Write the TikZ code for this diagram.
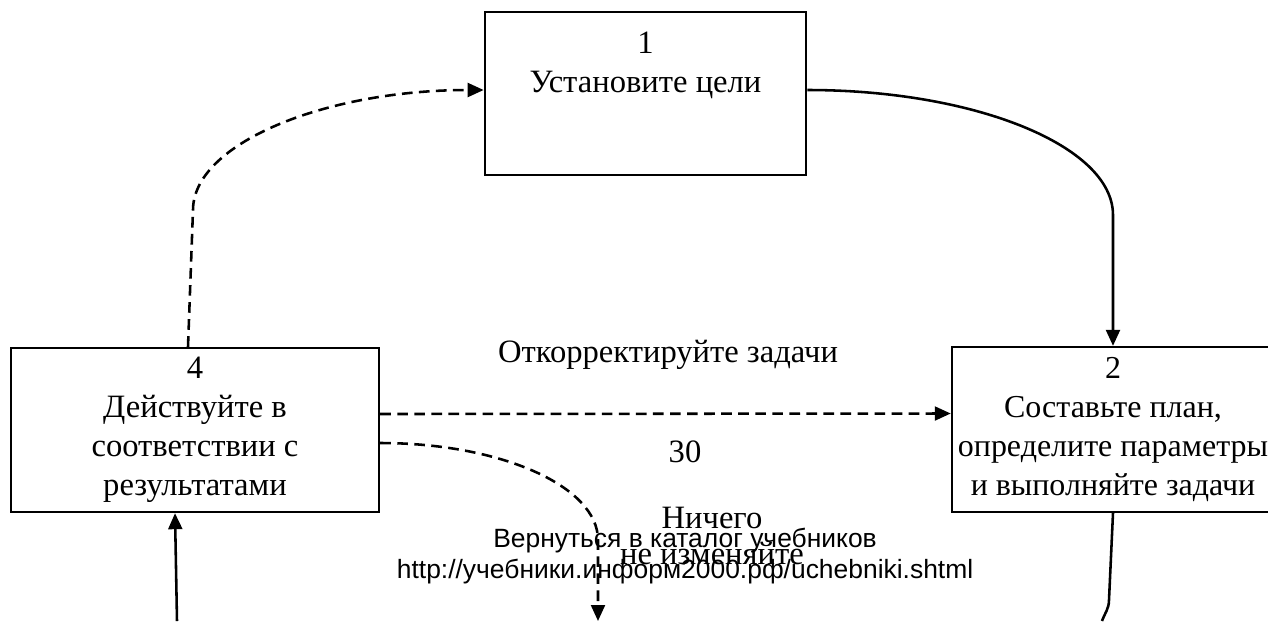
\documentclass[tikz,border=0pt]{standalone}
\usepackage{fontspec}
\setmainfont{Liberation Serif}
\setsansfont{Liberation Sans}
\usetikzlibrary{positioning,calc}
\usetikzlibrary{arrows.meta}
\tikzset{
  box/.style={draw=black,line width=1.1pt,inner sep=0pt,align=center,
    font=\fontsize{15}{18.3}\selectfont},
  flow/.style={draw=black,line width=1.2pt,-{Triangle[length=7.5pt,width=6.5pt]}},
  dflow/.style={flow,dash pattern=on 5pt off 3pt},
  wire/.style={draw=black,line width=1.2pt},
  lbl/.style={align=center,inner sep=0pt,font=\fontsize{15.3}{16.5}\selectfont},
  web/.style={align=center,inner sep=0pt,font=\sffamily\fontsize{12.4}{14.3}\selectfont},
}

\begin{document}
\begin{tikzpicture}[x=0.0165cm,y=-0.0165cm]
\useasboundingbox (0,0) rectangle (1268,621);
% boxes
\node[box,minimum width=5.3cm,minimum height=2.69cm] (goals) at (645.5,93.5) {};
\node[lbl,font=\fontsize{15.3}{18.3}\selectfont] (goalstext) at (645.5,65) {1\\Установите цели};
\node[box,minimum width=5.313cm,minimum height=2.72cm] (plan) at (1113,429.5)
  {2\\Составьте план,\\определите параметры\\и выполняйте задачи};
\node[box,font=\fontsize{15.3}{18.3}\selectfont,minimum width=6.072cm,minimum height=2.706cm] (act) at (195,430)
  {4\\Действуйте в\\соответствии с\\результатами};
% labels
\node[lbl] (fix) at (668,355) {Откорректируйте задачи};
\node[lbl] (thirty) at (685,452) {30};
\node[lbl] (keeptext) at (712,536) {Ничего\\не изменяйте};
\node[web] (back) at (685,556) {Вернуться в каталог учебников\\http://учебники.информ2000.рф/uchebniki.shtml};
% free ends
\coordinate (keep) at (598,621);
\coordinate (low) at (177,621);
\coordinate (out) at (1102,621);
% connectors
\draw[flow] ($(goals.east)+(0,-3.5)$) .. controls (975,90) and (1113,146) .. (1113,215) -- (plan.north);
\draw[dflow] ($(act.north)+(-7,0)$) -- (193,210) .. controls (193,144) and (324,90) .. ($(goals.west)+(0,-3.5)$);
\draw[dflow] ($(act.east)+(0,-16)$) -- ($(plan.west)+(0,-16)$);
\draw[dflow] ($(act.east)+(0,13)$) .. controls (500,443) and (598,486) .. (598,540) -- (keep);
\draw[flow] (low) -- ($(act.south)+(-20,0)$);
\draw[wire] (plan.south) -- (1109,600) to[out=-90,in=70] (out);
\end{tikzpicture}
\end{document}
